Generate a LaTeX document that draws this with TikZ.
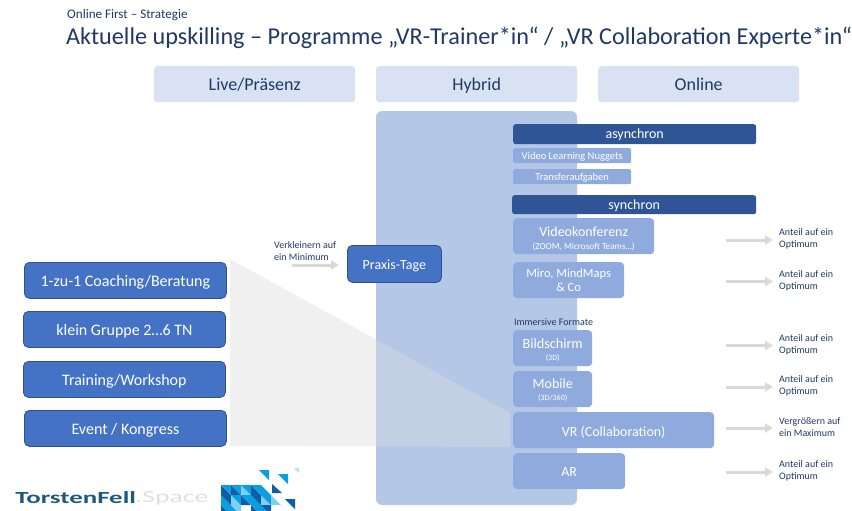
\documentclass[tikz,border=0pt]{standalone}
\usepackage{fontspec}
\usetikzlibrary{arrows.meta}
\setmainfont{Carlito}
\definecolor{navy}{HTML}{1F3864}
\definecolor{hdr}{HTML}{D9E2F3}
\definecolor{panel}{HTML}{B4C7E7}
\definecolor{blue1}{HTML}{4472C4}
\definecolor{blue1d}{HTML}{2F528F}
\definecolor{blue2}{HTML}{8FAADC}
\definecolor{dark}{HTML}{2F5597}
\definecolor{arrowg}{HTML}{D9D9D9}
\definecolor{tri}{HTML}{F0F0F0}
\definecolor{triover}{HTML}{C3CFE2}
\definecolor{lgsky}{HTML}{0A9FE0}
\definecolor{lgdark}{HTML}{0F5CA8}
\definecolor{lglight}{HTML}{7FD0F0}
\definecolor{logotext}{HTML}{1D5A7E}
\tikzset{
 hdrbox/.style={fill=hdr,rounded corners=3pt,text=navy,font=\fontsize{18}{18}\selectfont,anchor=north west,inner sep=0pt,align=center,text height=15pt,text depth=3pt},
 bigbox/.style={fill=blue1,draw=blue1d,line width=0.8pt,rounded corners=5pt,text=white,font=\fontsize{16}{16}\selectfont,inner sep=0pt,align=center,anchor=north west,text height=15pt,text depth=3pt},
 darkbox/.style={fill=dark,rounded corners=2.5pt,text=white,font=\fontsize{14}{14}\selectfont,inner sep=0pt,anchor=north west,text height=12pt,text depth=3pt},
 lightbox/.style={fill=blue2,rounded corners=4pt,text=white,font=\fontsize{14}{14}\selectfont,inner sep=0pt,align=center,anchor=north west},
 smallbox/.style={lightbox,rounded corners=2pt,font=\fontsize{10.5}{10.5}\selectfont,text height=10pt,text depth=3pt},
 growarrow/.style={draw=arrowg,line width=3pt,-{Triangle[length=8pt,width=9pt]}},
 note/.style={text=navy,font=\fontsize{10}{11.8}\selectfont,align=left,anchor=west,inner sep=0pt},
}
\begin{document}
\begin{tikzpicture}[x=1pt,y=-1pt]
\useasboundingbox (0,0) rectangle (852,511);
% headings
\node[anchor=west,inner sep=0pt,text=navy,font=\fontsize{13.1}{13}\selectfont] (kicker) at (67,15) {Online First – Strategie};
\node[anchor=west,inner sep=0pt,text=navy,font=\fontsize{24.2}{25}\selectfont] (title) at (66,38) {Aktuelle upskilling – Programme „VR-Trainer*in“ / „VR Collaboration Experte*in“};
% columns
\node[hdrbox,minimum width=201pt,minimum height=36pt] (live) at (154,66) {Live/Präsenz};
\node[hdrbox,minimum width=201pt,minimum height=36pt] (hybrid) at (376,66) {Hybrid};
\node[hdrbox,minimum width=201pt,minimum height=36pt] (online) at (598,66) {Online};
% hybrid panel
\fill[panel,rounded corners=6pt] (376,111) rectangle (577,505);
% big grey triangle
\fill[tri] (230,259) -- (376,339.4) -- (376,446.5) -- (230,446) -- cycle;
\fill[triover] (376,339.4) -- (510,413) -- (510,447) -- (376,446.5) -- cycle;
% left boxes
\node[bigbox,minimum width=202pt,minimum height=36pt] (coach) at (24,262) {1-zu-1 Coaching/Beratung};
\node[bigbox,minimum width=202pt,minimum height=36pt] (klein) at (23,311) {klein Gruppe 2…6 TN};
\node[bigbox,minimum width=202pt,minimum height=36pt] (train) at (23,361) {Training/Workshop};
\node[bigbox,minimum width=202pt,minimum height=36pt] (event) at (24,410) {Event / Kongress};
\node[bigbox,minimum width=94pt,minimum height=37pt,font=\fontsize{14}{14}\selectfont,text height=14pt] (praxis) at (347,245) {Praxis-Tage};
% right column
\node[darkbox,minimum width=243pt,minimum height=20pt] (asyn) at (513,124) {asynchron};
\node[smallbox,minimum width=118pt,minimum height=15pt] (nuggets) at (513,148) {Video Learning Nuggets};
\node[smallbox,minimum width=118pt,minimum height=15pt] (transfer) at (513,169) {Transferaufgaben};
\node[darkbox,minimum width=244pt,minimum height=19pt] (syn) at (512,195) {synchron};
\node[lightbox,minimum width=141pt,minimum height=36pt] (video) at (513,218) {\rule{0pt}{14pt}Videokonferenz\\[-1pt]{\fontsize{9.2}{9}\selectfont (ZOOM, Microsoft Teams…)}};
\node[lightbox,minimum width=111pt,minimum height=36pt,font=\fontsize{12.5}{14.5}\selectfont] (miro) at (513,262) {Miro, MindMaps\\\& Co};
\node[anchor=west,inner sep=0pt,text=navy,font=\fontsize{10}{10}\selectfont] (immersive) at (514,322) {Immersive Formate};
\node[lightbox,minimum width=79pt,minimum height=36pt,font=\fontsize{14.2}{14}\selectfont] (bild) at (513,330) {\rule{0pt}{13.5pt}Bildschirm\\[-2pt]{\fontsize{8}{8}\selectfont (3D)}};
\node[lightbox,minimum width=79pt,minimum height=36pt,font=\fontsize{14}{14}\selectfont] (mobile) at (513,371) {\rule{0pt}{12pt}Mobile\\[-2pt]{\fontsize{8}{8}\selectfont (3D/360)}};
\node[lightbox,minimum width=201pt,minimum height=36pt,font=\fontsize{14}{14}\selectfont,text height=15pt,text depth=3pt] (vr) at (513,412) {VR (Collaboration)};
\node[lightbox,minimum width=112pt,minimum height=36pt,font=\fontsize{14}{14}\selectfont,text height=13pt,text depth=3pt] (ar) at (513,453) {AR};
% arrows and notes
\coordinate (s0) at (292,265); \coordinate (e0) at (339,265);
\draw[growarrow] (s0) -- (e0);
\node[note,anchor=south west] (verk) at (274,261) {Verkleinern auf\\ein Minimum};
\foreach \n/\y/\txt in {1/240/{Anteil auf ein\\Optimum},2/281.5/{Anteil auf ein\\Optimum},3/345.5/{Anteil auf ein\\Optimum},4/387/{Anteil auf ein\\Optimum},5/428/{Vergrößern auf\\ein Maximum},6/472/{Anteil auf ein\\Optimum}}{
 \coordinate (s\n) at (726,\y); \coordinate (e\n) at (773,\y);
 \draw[growarrow] (s\n) -- (e\n);
 \node[note] (n\n) at (779,\y-1) {\txt};
}
% logo wordmark
\node[anchor=west,inner sep=0pt,font=\fontsize{17}{17}\bfseries\selectfont,text=logotext,xscale=1.58,transform shape] (logoa) at (15,498) {TorstenFell};
\node[anchor=west,inner sep=0pt,font=\fontsize{17}{17}\selectfont,text=black!12,xscale=1.63,transform shape] (logob) at (135,498) {.Space};
% logo mark
\foreach \cx/\cy/\ca/\cb in {221/485/lgdark/lgsky,231/485/lgdark/lgsky,241/485/lglight/lgsky,251/485/lgdark/lgsky,
 221/495/lgsky/lgdark,231/495/lglight/lgsky,241/495/lgdark/lgsky,251/495/lgsky/lgdark,261/495/lglight/lgsky,
 221/505/lgdark/lgsky,231/505/lgsky/lglight,251/505/lgdark/lgsky,261/505/lgsky/lgdark}{
 \fill[\ca] (\cx,\cy) -- ++(10,10) -- ++(-10,0) -- cycle;
 \fill[\cb] (\cx,\cy) -- ++(10,0) -- ++(0,10) -- cycle;
}
\fill[lgsky] (261,485) -- (271,495) -- (261,495) -- cycle;
\fill[lglight] (271,495) -- (281,505) -- (271,505) -- cycle;
\fill[lgsky] (259,470) -- (269,470) -- (269,480) -- cycle;
\fill[lgsky] (278,474) -- (288,474) -- (288,484) -- cycle;
\fill[lglight!60] (294,468) -- (299,468) -- (299,473) -- cycle;
\fill[lgdark] (272,484) -- (272,493) -- (282,493) -- cycle;
\fill[lgdark] (285,499) -- (295,499) -- (295,509) -- cycle;
\end{tikzpicture}
\end{document}
